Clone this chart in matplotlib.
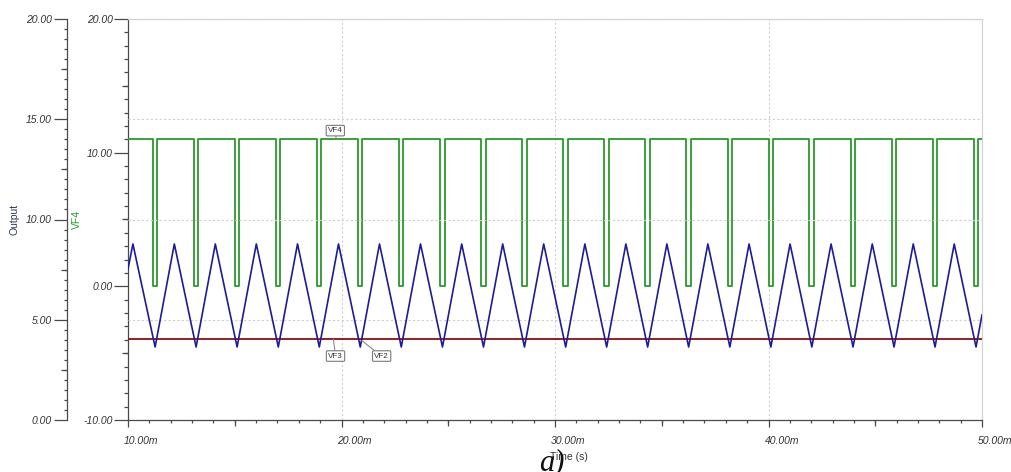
import matplotlib

matplotlib.use("Agg")
import matplotlib.pyplot as plt
import matplotlib.transforms as mtransforms
from matplotlib.lines import TICKLEFT, TICKDOWN
from matplotlib.ticker import MultipleLocator, FuncFormatter

plt.rcParams['font.family'] = ['Liberation Sans', 'DejaVu Sans']
plt.rcParams['font.style'] = 'italic'

# ---- data (time in ms, volts) ----
# VF2: triangle wave, vertices
vf2_start = (10.00, 7.53)
vf2_end = (50.00, 5.24)
vf2_peak_ms = [10.23, 12.17, 14.09, 16.01, 17.94, 19.86, 21.78, 23.70, 25.63,
               27.55, 29.47, 31.40, 33.32, 35.24, 37.16, 39.09, 41.01, 42.93,
               44.86, 46.78, 48.70]
vf2_trough_ms = [11.27, 13.19, 15.11, 17.04, 18.96, 20.88, 22.80, 24.73, 26.65,
                 28.57, 30.50, 32.42, 34.34, 36.26, 38.19, 40.11, 42.03, 43.96,
                 45.88, 47.80, 49.72]
vf2_peak_v = 8.78
vf2_trough_v = 3.64

# VF3: flat reference level
vf3_ms = [10.0, 50.0]
vf3_v = [4.02, 4.02]

# VF4: comparator output, short low pulses at the triangle minima
vf4_high = 11.0
vf4_low = 0.0
vf4_fall_ms = [11.15, 13.08, 15.00, 16.93, 18.85, 20.77, 22.69, 24.62, 26.54,
               28.46, 30.39, 32.31, 34.23, 36.15, 38.08, 40.00, 41.92, 43.85,
               45.77, 47.69, 49.61]
vf4_rise_ms = [11.37, 13.29, 15.21, 17.14, 19.06, 20.98, 22.90, 24.83, 26.75,
               28.67, 30.60, 32.52, 34.44, 36.36, 38.29, 40.21, 42.13, 44.06,
               45.98, 47.90, 49.82]

# ---- build polylines ----
pts = [vf2_start] + [(t, vf2_peak_v) for t in vf2_peak_ms] \
    + [(t, vf2_trough_v) for t in vf2_trough_ms] + [vf2_end]
pts.sort()
vf2_t = [p[0] for p in pts]
vf2_y = [p[1] for p in pts]

vf4_t, vf4_y = [10.0], [vf4_high]
for f, r in zip(vf4_fall_ms, vf4_rise_ms):
    vf4_t += [f, f, r, r]
    vf4_y += [vf4_high, vf4_low, vf4_low, vf4_high]
vf4_t.append(50.0)
vf4_y.append(vf4_high)

# ---- figure layout (pixel based) ----
W, H = 1011, 472
L, R, T, B = 128, 982, 19, 420
OUTER_X = 67
fig = plt.figure(figsize=(W / 100, H / 100), dpi=100)
ax = fig.add_axes([L / W, 1 - B / H, (R - L) / W, (B - T) / H])
ax2 = ax.twinx()

AX_C = '#4a4a4a'
TXT_C = '#333333'
GREEN = '#2a9a2a'
BLUE = '#1c1c96'
RED = '#8e0f0f'

ax.plot(vf4_t, vf4_y, color=GREEN, lw=1.3, zorder=3)
ax2.plot(vf3_ms, vf3_v, color=RED, lw=1.3, zorder=3)
ax2.plot(vf2_t, vf2_y, color=BLUE, lw=1.2, zorder=4)

ax.set_xlim(10, 50)
ax.set_ylim(-10, 20)
ax2.set_ylim(0, 20)

# spines
for s in ('left', 'bottom'):
    ax.spines[s].set_color(AX_C)
    ax.spines[s].set_linewidth(0.9)
for s in ('top', 'right'):
    ax.spines[s].set_color('#d4d4d4')
    ax.spines[s].set_linewidth(0.9)
for s in ('top', 'bottom', 'right'):
    ax2.spines[s].set_visible(False)
ax2.spines['left'].set_visible(True)
ax2.spines['left'].set_position(('axes', (OUTER_X - L) / (R - L)))
ax2.spines['left'].set_color(AX_C)
ax2.spines['left'].set_linewidth(0.9)
ax2.yaxis.tick_left()
ax2.yaxis.set_label_position('left')

fmt_y = FuncFormatter(lambda v, p: f"{v:.2f}")
fmt_x = FuncFormatter(lambda v, p: f"{v:.2f}m")

# inner VF4 axis
ax.yaxis.set_major_locator(MultipleLocator(10))
ax.yaxis.set_minor_locator(MultipleLocator(1))
ax.yaxis.set_major_formatter(fmt_y)
ax.tick_params(axis='y', which='major', length=10, width=0.9, color=AX_C,
               labelsize=7.5, labelcolor=TXT_C, pad=1.0)
ax.tick_params(axis='y', which='minor', length=2.8, width=0.9, color=AX_C)

# outer Output axis
ax2.yaxis.set_major_locator(MultipleLocator(5))
ax2.yaxis.set_minor_locator(MultipleLocator(0.5))
ax2.yaxis.set_major_formatter(fmt_y)
ax2.tick_params(axis='y', which='major', length=9.4, width=0.9, color=AX_C,
                labelsize=7.5, labelcolor=TXT_C, pad=1.4)
ax2.tick_params(axis='y', which='minor', length=2.4, width=0.9, color=AX_C)

# x axis
ax.xaxis.set_major_locator(MultipleLocator(10))
ax.xaxis.set_minor_locator(MultipleLocator(1))
ax.xaxis.set_major_formatter(fmt_x)
ax.tick_params(axis='x', which='major', length=5, width=0.9, color=AX_C,
               labelsize=7.5, labelcolor=TXT_C, pad=6.5)
ax.tick_params(axis='x', which='minor', length=2.2, width=0.9, color=AX_C)
shift = mtransforms.ScaledTranslation(-4 / 100, 0, fig.dpi_scale_trans)
for lbl in ax.get_xticklabels():
    lbl.set_horizontalalignment('left')
    lbl.set_transform(lbl.get_transform() + shift)

# medium ticks (half-interval marks)
inner_mid = [-5, 5, 15]
outer_mid = [2.5, 7.5, 12.5, 17.5]
x_mid = [15, 25, 35, 45]
ax.plot([0] * len(inner_mid), inner_mid, ls='', marker=TICKLEFT, ms=4.3,
        mew=0.9, color=AX_C, transform=ax.get_yaxis_transform(), clip_on=False)
outer_tr = mtransforms.blended_transform_factory(ax2.transAxes, ax2.transData)
ax2.plot([(OUTER_X - L) / (R - L)] * len(outer_mid), outer_mid, ls='',
         marker=TICKLEFT, ms=4.3, mew=0.9, color=AX_C, transform=outer_tr,
         clip_on=False)
ax.plot(x_mid, [0] * len(x_mid), ls='', marker=TICKDOWN, ms=4.3, mew=0.9,
        color=AX_C, transform=ax.get_xaxis_transform(), clip_on=False)

# grid
ax.grid(axis='x', which='major', color='#cfcfcf', ls=(0, (2, 2)), lw=0.8)
ax2.grid(axis='y', which='major', color='#cfcfcf', ls=(0, (2, 2)), lw=0.8)
ax.set_axisbelow(True)

# axis titles
ax2.set_ylabel('Output', fontsize=7.5, style='normal', color='#2b3a55',
               va='center')
ax2.yaxis.set_label_coords((15 - L) / (R - L), 0.5)
ax.set_ylabel('VF4', fontsize=7.5, style='normal', color=GREEN, va='center')
ax.yaxis.set_label_coords((77 - L) / (R - L), 0.5)
ax.set_xlabel('Time (s)', fontsize=7.5, style='normal', color=TXT_C,
              va='center')
ax.xaxis.set_label_coords((569 - L) / (R - L), (B - 457) / (B - T))

# curve tags
box = dict(boxstyle='round,pad=0.22,rounding_size=0.15', fc='white',
           ec='#7a7a7a', lw=0.8)
arrow = dict(arrowstyle='-', color='#8a8a8a', lw=0.8, shrinkA=0, shrinkB=0)
tag_kw = dict(fontsize=5.8, style='normal', color=TXT_C, ha='center',
              va='center', bbox=box, arrowprops=arrow, zorder=6,
              annotation_clip=False)
ax.annotate('VF4', xy=(19.75, vf4_high), xytext=(19.71, 11.65), **tag_kw)
ax2.annotate('VF3', xy=(19.62, vf3_v[0]), xytext=(19.72, 3.19), **tag_kw)
ax2.annotate('VF2', xy=(20.96, 3.95), xytext=(21.88, 3.19), **tag_kw)

fig.text(552 / W, (H - 470) / H, 'a)', fontsize=22, family='Liberation Serif',
         style='italic', color='#111111', ha='center', va='baseline')

fig.savefig('out.png', dpi=100)
